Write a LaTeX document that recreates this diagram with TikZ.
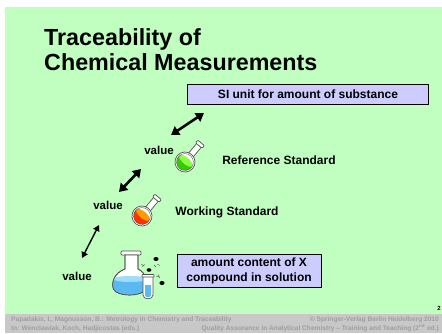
\documentclass[tikz,border=0pt]{standalone}
\usepackage{fontspec}
\setmainfont{Liberation Sans}
\usetikzlibrary{arrows.meta}

\definecolor{slidegreen}{RGB}{192,255,192}
\definecolor{boxblue}{RGB}{204,204,255}
\definecolor{footgray}{RGB}{200,200,200}
\definecolor{foottext}{RGB}{158,158,158}
\definecolor{flaskline}{RGB}{80,80,80}
\definecolor{greendark}{RGB}{51,204,0}
\definecolor{greenlight}{RGB}{140,255,70}
\definecolor{orangedark}{RGB}{255,51,0}
\definecolor{orangelight}{RGB}{255,153,0}
\definecolor{bluedark}{RGB}{90,185,240}
\definecolor{bluelight}{RGB}{160,220,255}

\tikzset{
  label/.style={font=\bfseries\fontsize{12}{14}\selectfont, inner sep=0pt},
  valuelabel/.style={font=\bfseries\fontsize{11.5}{13}\selectfont, inner sep=0pt},
  infobox/.style={draw=black, line width=0.8pt, fill=boxblue, inner sep=0pt,
    font=\bfseries\fontsize{12}{15}\selectfont, align=center},
  footer/.style={font=\bfseries\fontsize{6.6}{8}\selectfont, text=foottext, inner sep=0pt},
  bigarrow/.style={line width=2.6pt,
    {Triangle[length=8pt,width=10pt]}-{Triangle[length=8pt,width=10pt]}},
  smallarrow/.style={line width=1.4pt,
    {Triangle[length=6pt,width=6.5pt]}-{Triangle[length=6pt,width=6.5pt]}},
  glass/.style={fill=white, draw=flaskline, line width=0.7pt},
  % round-bottom flask, neck pointing up before rotation
  pics/rflask/.style n args={2}{code={
    \fill[glass] (-3,-6) rectangle (3,-22);
    \fill[glass, rounded corners=1pt] (-4.3,-25) rectangle (4.3,-21.5);
    \filldraw[glass] (0,0) circle (10);
    \begin{scope}
      \clip (0,0) circle (8.4);
      \fill[#1] (-10,-1.5) rectangle (10,10);
      \fill[#2] (0,-1.5) ellipse (8.4 and 3.4);
    \end{scope}
    \draw[flaskline, line width=0.4pt] (0,0) circle (8.4);
  }}
}

\begin{document}
\begin{tikzpicture}[x=1pt, y=-1pt]
\useasboundingbox (0,0) rectangle (442,333);

% slide background and footer band
\fill[white] (0,0) rectangle (442,333);
\fill[slidegreen] (5,7) rectangle (442,314);
\fill[footgray] (5,314) rectangle (442,333);

% title
\node[anchor=base west, font=\bfseries\fontsize{23.3}{25}\selectfont, inner sep=0pt]
  (title1) at (44,45) {Traceability of};
\node[anchor=base west, font=\bfseries\fontsize{23.3}{25}\selectfont, inner sep=0pt]
  (title2) at (44,70) {Chemical Measurements};

% top of the chain
\node[infobox, minimum width=241pt, minimum height=20pt] (si) at (308,94)
  {SI unit for amount of substance};

% reference standard
\node[valuelabel] (val1) at (159,150) {value};
\pic[rotate=-40] (refflask) at (185,162) {rflask={greendark}{greenlight}};
\node[label] (refstd) at (279,160) {Reference Standard};

% working standard
\node[valuelabel] (val2) at (108,205) {value};
\pic[rotate=-40] (workflask) at (142,216) {rflask={orangedark}{orangelight}};
\node[label] (workstd) at (227,212) {Working Standard};

% sample
\node[valuelabel] (val3) at (77,276) {value};
\node[infobox, minimum width=144pt, minimum height=33pt] (sample) at (249,270.5)
  {amount content of X\\compound in solution};

% arrows between the levels
\coordinate (a1lo) at (171,135);
\coordinate (a1hi) at (204,113);
\coordinate (a2lo) at (119,192);
\coordinate (a2hi) at (141,169);
\coordinate (a3lo) at (82,258);
\coordinate (a3hi) at (99,225);
\draw[bigarrow] (a1lo) -- (a1hi);
\draw[bigarrow] (a2lo) -- (a2hi);
\draw[smallarrow] (a3lo) -- (a3hi);

% sample flask with test tube
\fill[glass, rounded corners=1pt] (121,251) rectangle (141,255);
\path[glass] (125,255) -- (125,269)
  .. controls (114,273) and (111,283) .. (113.5,289)
  .. controls (117,297) and (142,297) .. (146,289)
  .. controls (149,282) and (146,273) .. (138,269)
  -- (138,255) -- cycle;
\begin{scope}
  \clip (125,255) -- (125,269)
    .. controls (114,273) and (111,283) .. (113.5,289)
    .. controls (117,297) and (142,297) .. (146,289)
    .. controls (149,282) and (146,273) .. (138,269)
    -- (138,255) -- cycle;
  \fill[bluedark] (110,279) rectangle (150,300);
  \fill[bluelight] (130,279) ellipse (17 and 3);
\end{scope}
\draw[flaskline, line width=0.7pt] (125,255) -- (125,269)
  .. controls (114,273) and (111,283) .. (113.5,289)
  .. controls (117,297) and (142,297) .. (146,289)
  .. controls (149,282) and (146,273) .. (138,269)
  -- (138,255);
\fill[glass] (143,276) -- (143,295) .. controls (143,300) and (153,300) .. (153,295)
  -- (153,276) -- cycle;
\fill[bluedark] (145,285) -- (145,295) .. controls (145,298) and (151,298) .. (151,295)
  -- (151,285) -- cycle;
\fill[glass, rounded corners=0.5pt] (142,274.5) rectangle (154,277);

% drops and sparkles above the flask
\fill[black] (156,259) ellipse (2.6 and 2);
\fill[black] (149,270) ellipse (2.4 and 1.8);
\fill[black] (162,283) ellipse (2.6 and 2);
\draw[flaskline, line width=0.4pt]
  (141,264) -- (144,266) (142,266.5) -- (145,264.5)
  (154,265) -- (156,267) (157,264) -- (160,265.5)
  (156,276) -- (159,277) (158,274.5) -- (160,278);

% slide number
\node[font=\bfseries\fontsize{6}{7}\selectfont, inner sep=0pt] (pageno) at (439,308) {2};

% footer
\node[footer, anchor=west] (src1) at (11,320)
  {Papadakis, I., Magnusson, B.: Metrology in Chemistry and Traceability};
\node[footer, anchor=east] (pub1) at (439,320)
  {© Springer-Verlag Berlin Heidelberg 2010};
\node[footer, anchor=west] (src2) at (11,328.3)
  {In: Wenclawiak, Koch, Hadjicostas (eds.)};
\node[footer, anchor=east] (pub2) at (439,328.3)
  {Quality Assurance in Analytical Chemistry – Training and Teaching (2\textsuperscript{nd} ed.)};
\end{tikzpicture}
\end{document}
